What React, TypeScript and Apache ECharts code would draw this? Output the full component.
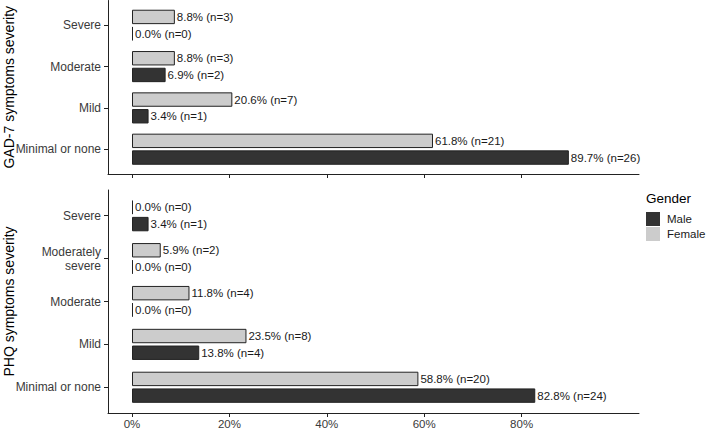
import React, { useEffect, useRef } from "react";
import * as echarts from "echarts";

const gadCategories = ["Severe", "Moderate", "Mild", "Minimal or none"];
const gadFemalePct = [8.8, 8.8, 20.6, 61.8];
const gadFemaleN = [3, 3, 7, 21];
const gadMalePct = [0.0, 6.9, 3.4, 89.7];
const gadMaleN = [0, 2, 1, 26];

const phqCategories = ["Severe", "Moderately\nsevere", "Moderate", "Mild", "Minimal or none"];
const phqFemalePct = [0.0, 5.9, 11.8, 23.5, 58.8];
const phqFemaleN = [0, 2, 4, 8, 20];
const phqMalePct = [3.4, 0.0, 0.0, 13.8, 82.8];
const phqMaleN = [1, 0, 0, 4, 24];

const xTicks = [0, 20, 40, 60, 80];
const legendNames = ["Male", "Female"];

const FONT = "'Liberation Sans', Arial, Helvetica, sans-serif";
const MALE = "#333333";
const FEMALE = "#cccccc";

export default function App() {
  const ref = useRef<HTMLDivElement>(null);
  useEffect(() => {
    document.body.style.margin = "0";
    if (!ref.current) return;
    const chart = echarts.init(ref.current, undefined, { renderer: "svg" });

    const left = 108;
    const width = 531;
    const xMin = -4.93;
    const xMax = 104.1;

    const p1Top = 0.5, p1H = 173.5, n1 = gadCategories.length;
    const u1 = p1H / (n1 + 0.2);
    const p2Top = 190, p2H = 223, n2 = phqCategories.length;
    const u2 = p2H / (n2 + 0.2);

    const lineAxisX = (showLabels: boolean, gridIndex: number) => ({
      type: "value",
      gridIndex,
      min: xMin,
      max: xMax,
      axisLine: { show: true, onZero: false, lineStyle: { color: "#222", width: 1 } },
      axisTick: { show: true, length: 4, customValues: xTicks, lineStyle: { color: "#222" } },
      axisLabel: {
        show: showLabels,
        customValues: xTicks,
        formatter: (v: number) => `${v}%`,
        fontSize: 11.5,
        color: "#3a3a3a",
        margin: 5,
        fontFamily: FONT,
      },
      splitLine: { show: false },
    });
    const hiddenX = (gridIndex: number) => ({
      type: "value",
      gridIndex,
      min: xMin,
      max: xMax,
      show: false,
      splitLine: { show: false },
    });
    const lineAxisY = (gridIndex: number) => ({
      type: "value",
      gridIndex,
      min: 0,
      max: 1,
      axisLine: { show: true, onZero: false, lineStyle: { color: "#222", width: 1 } },
      axisTick: { show: false },
      axisLabel: { show: false },
      splitLine: { show: false },
    });
    const catY = (gridIndex: number, data: string[]) => ({
      type: "category",
      gridIndex,
      data,
      inverse: true,
      axisLine: { show: false, onZero: false },
      axisTick: { show: true, length: 4, alignWithLabel: true, lineStyle: { color: "#222" } },
      axisLabel: {
        fontSize: 12,
        color: "#3a3a3a",
        margin: 7,
        lineHeight: 14,
        align: "right",
        fontFamily: FONT,
      },
      splitLine: { show: false },
    });

    const barSeries = (
      name: string,
      axisIndex: number,
      pct: number[],
      ns: number[],
      color: string
    ) => ({
      type: "bar",
      name,
      xAxisIndex: axisIndex,
      yAxisIndex: axisIndex,
      data: pct,
      barWidth: 14.4,
      barGap: "16%",
      barMinHeight: 1,
      itemStyle: { color, borderColor: "#222", borderWidth: 1 },
      label: {
        show: true,
        position: "right",
        distance: 2,
        fontSize: 11.5,
        color: "#1a1a1a",
        fontFamily: FONT,
        formatter: (p: any) => `${Number(p.value).toFixed(1)}% (n=${ns[p.dataIndex]})`,
      },
    });

    chart.setOption({
      animation: false,
      textStyle: { fontFamily: FONT },
      grid: [
        { left, width, top: p1Top, height: p1H },
        { left, width, top: p1Top + 0.1 * u1, height: n1 * u1 },
        { left, width, top: p2Top, height: p2H },
        { left, width, top: p2Top + 0.1 * u2, height: n2 * u2 },
      ],
      xAxis: [lineAxisX(false, 0), hiddenX(1), lineAxisX(true, 2), hiddenX(3)],
      yAxis: [lineAxisY(0), catY(1, gadCategories), lineAxisY(2), catY(3, phqCategories)],
      legend: {
        data: legendNames,
        orient: "vertical",
        left: 646,
        top: 212,
        padding: 0,
        itemWidth: 14,
        itemHeight: 14,
        itemGap: 1,
        icon: "rect",
        itemStyle: { borderWidth: 0 },
        textStyle: { fontSize: 11.5, color: "#1a1a1a", fontFamily: FONT, padding: [0, 0, 0, 2] },
        selectedMode: false,
      },
      graphic: [
        {
          type: "text",
          x: 9,
          y: p1Top + p1H / 2,
          rotation: Math.PI / 2,
          style: {
            text: "GAD-7 symptoms severity",
            fontSize: 14,
            fill: "#000",
            align: "center",
            verticalAlign: "middle",
            fontFamily: FONT,
          },
        },
        {
          type: "text",
          x: 9,
          y: p2Top + p2H / 2,
          rotation: Math.PI / 2,
          style: {
            text: "PHQ symptoms severity",
            fontSize: 14,
            fill: "#000",
            align: "center",
            verticalAlign: "middle",
            fontFamily: FONT,
          },
        },
        {
          type: "text",
          x: 646,
          y: 198,
          style: {
            text: "Gender",
            fontSize: 13.5,
            fill: "#000",
            align: "left",
            verticalAlign: "middle",
            fontFamily: FONT,
          },
        },
      ],
      series: [
        barSeries("Female", 1, gadFemalePct, gadFemaleN, FEMALE),
        barSeries("Male", 1, gadMalePct, gadMaleN, MALE),
        barSeries("Female", 3, phqFemalePct, phqFemaleN, FEMALE),
        barSeries("Male", 3, phqMalePct, phqMaleN, MALE),
      ],
    });
    return () => chart.dispose();
  }, []);
  return <div ref={ref} style={{ width: 708, height: 430 }} />;
}
